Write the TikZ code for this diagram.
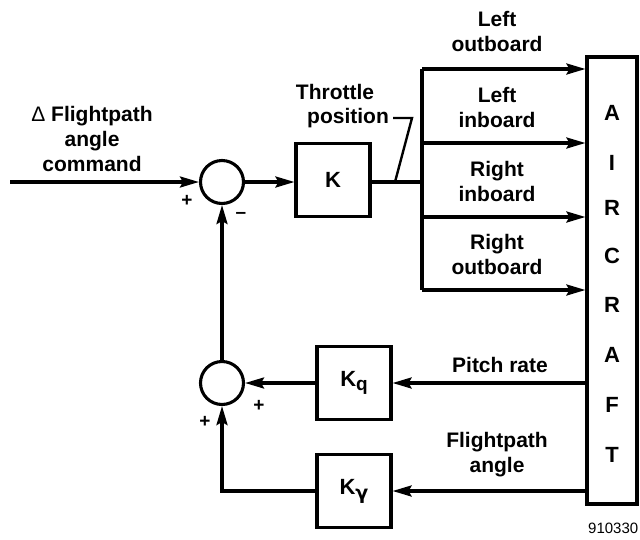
\documentclass[tikz,border=0pt]{standalone}
\usepackage{fontspec}
\setmainfont{Liberation Sans}
\newfontfamily\gkfont{DejaVu Sans}
\usetikzlibrary{arrows.meta}
\begin{document}
\begin{tikzpicture}[x=1pt,y=-1pt,
  lw/.style={line width=3.1pt},
  arr/.style={lw,-{Stealth[length=19pt,width=11pt,inset=3pt]}},
  blk/.style={draw,lw,minimum width=74pt,minimum height=73pt,inner sep=0pt,font=\bfseries\fontsize{22}{25}\selectfont},
  sumc/.style={draw,lw,circle,minimum size=43pt,inner sep=0pt},
  lbl/.style={align=center,font=\bfseries\fontsize{21}{25}\selectfont,inner sep=0pt},
  sgn/.style={font=\bfseries\fontsize{19}{19}\selectfont,inner sep=0pt},
  letter/.style={font=\bfseries\fontsize{22}{22}\selectfont,inner sep=0pt}]
\useasboundingbox (0,0) rectangle (640,539);

% blocks
\node[sumc] (s1) at (222,182) {};
\node[sumc] (s2) at (222,383) {};
\node[blk] (K) at (333,180) {K};
\node[blk] (Kq) at (354,383) {K\raisebox{-4pt}{\fontsize{19}{19}\selectfont q}};
\node[blk] (Kg) at (354,491) {K\raisebox{-5pt}{\gkfont\fontsize{19}{19}\selectfont γ}};
\node[draw,lw,minimum width=50pt,minimum height=447pt,inner sep=0pt] (AC) at (612,280.5) {};
\foreach \c/\y [count=\i] in {A/113,I/163,R/208,C/256,R/305,A/355,F/405,T/455}
  \node[letter] (L\i) at (612,\y) {\c};

% input
\coordinate (in) at (10,182);
\draw[arr] (in) -- (s1.west);
\draw[arr] (s1.east) -- (K.west |- s1);

% bus
\coordinate (bus) at (422,182);
\coordinate (b1) at (422,69);
\coordinate (b2) at (422,143);
\coordinate (b3) at (422,217);
\coordinate (b4) at (422,290);
\draw[lw] (K.east |- bus) -- (bus);
\draw[lw] (b1) -- (b4);
\draw[arr] (b1) -- (AC.west |- b1);
\draw[arr] (b2) -- (AC.west |- b2);
\draw[arr] (b3) -- (AC.west |- b3);
\draw[arr] (b4) -- (AC.west |- b4);

% feedback
\draw[arr] (AC.west |- Kq) -- (Kq.east);
\draw[arr] (Kq.west) -- (s2.east);
\draw[arr] (AC.west |- Kg) -- (Kg.east);
\draw[arr] (Kg.west) -| (s2.south);
\draw[arr] (s2.north) -- (s1.south);

% throttle label
\node[lbl] (thr1) at (335,92) {Throttle};
\node[lbl] (thr2) at (348,118) {position};
\coordinate (t1) at (393,118);
\coordinate (t2) at (412,118);
\coordinate (t3) at (395,182);
\draw[line width=2.4pt] (t1) -- (t2) -- (t3);

% labels
\node[lbl] (lo) at (497,31) {Left\\outboard};
\node[lbl] (li) at (497,107) {Left\\inboard};
\node[lbl] (ri) at (497,181) {Right\\inboard};
\node[lbl] (ro) at (497,254) {Right\\outboard};
\node[lbl] (pr) at (500,365) {Pitch rate};
\node[lbl] (fa) at (497,455) {Flightpath\\angle};
\node[lbl] (cmd) at (92,139) {{\mdseries Δ} Flightpath\\angle\\command};

% signs
\node[sgn] (p1) at (187,201) {+};
\node[sgn] (m1) at (241,215) {\textendash};
\node[sgn] (p2) at (259,406) {+};
\node[sgn] (p3) at (205,422) {+};

\node[anchor=west,inner sep=0pt,font=\fontsize{15}{15}\selectfont] (id) at (588,528) {910330};
\end{tikzpicture}
\end{document}
